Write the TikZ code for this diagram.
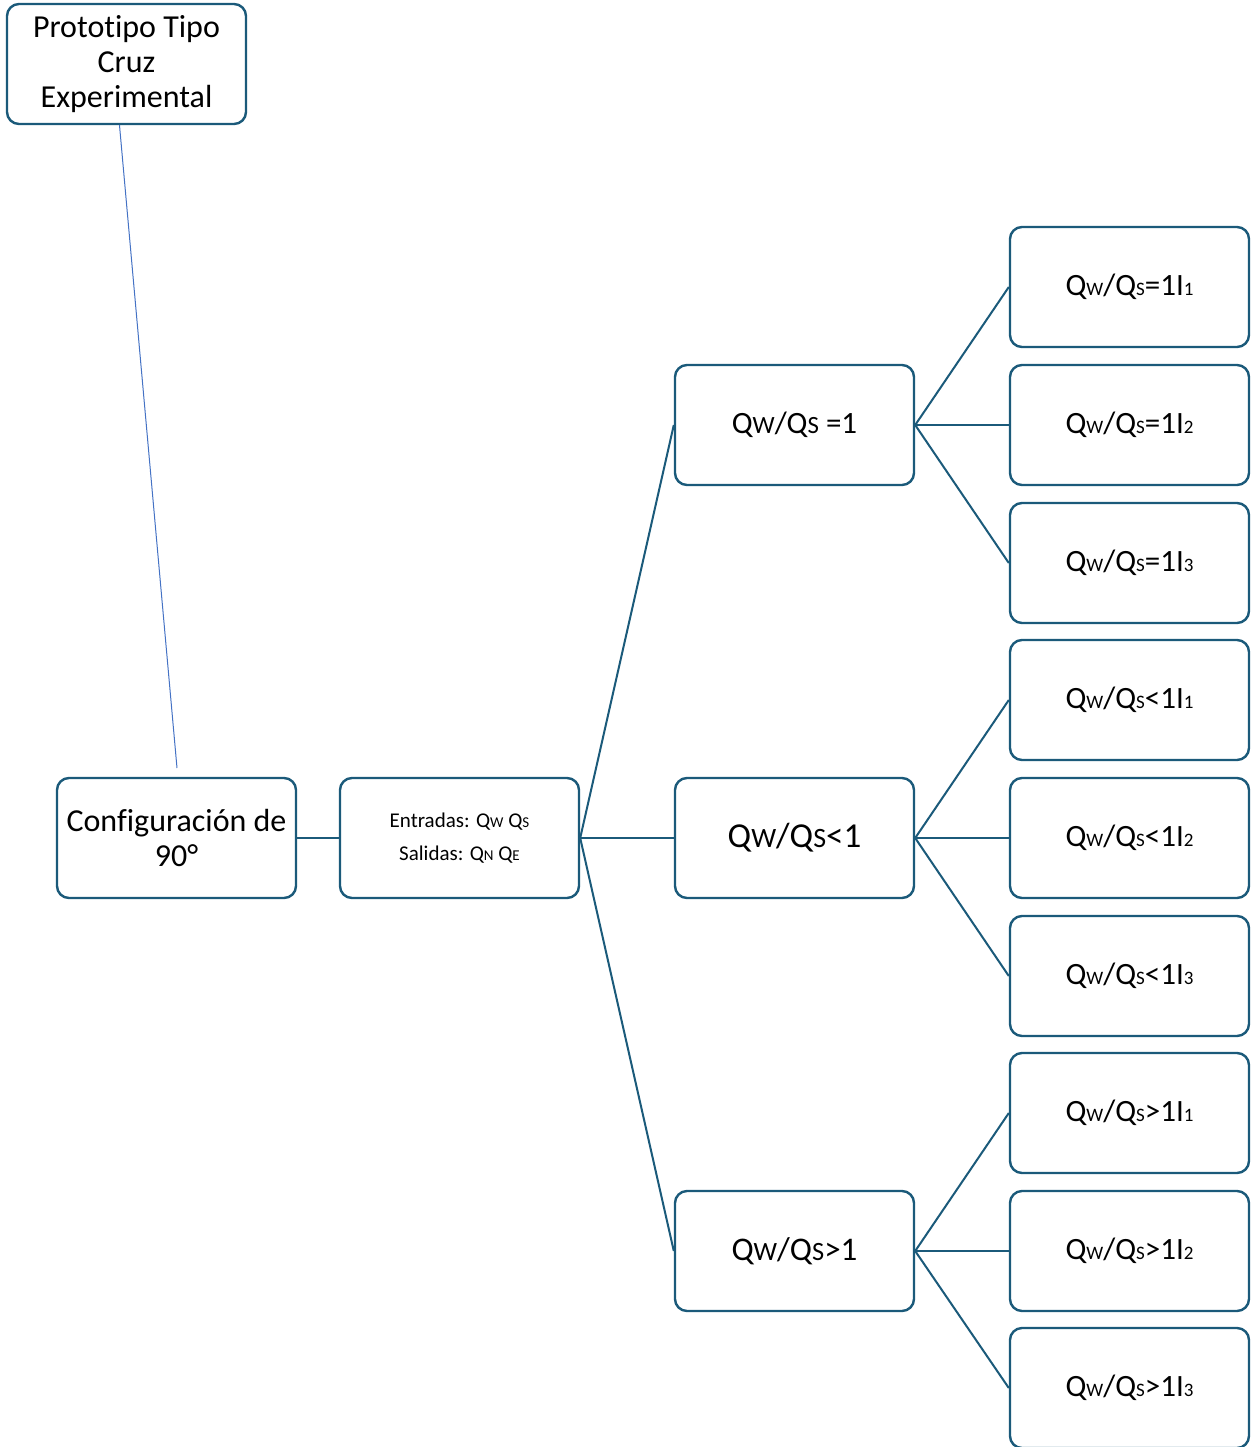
\documentclass[tikz,border=0pt]{standalone}
\usepackage{fontspec}
\setmainfont[Ligatures=NoCommon]{Carlito}
\definecolor{boxc}{HTML}{1B5A7A}
\definecolor{thinc}{HTML}{4472C4}
\newcommand\smc[1]{{\fontsize{9.5}{11}\selectfont #1}}
\newcommand\mdc[1]{{\fontsize{0.8\dimexpr\fontdimen6\font\relax}{14}\selectfont #1}}
\newcommand\tnc[1]{{\fontsize{7.5}{9}\selectfont #1}}
\begin{document}
\begin{tikzpicture}[x=0.5pt,y=-0.5pt,
  box/.style={draw=boxc, line width=1.2pt, rounded corners=6pt, fill=white,
    minimum width=119.5pt, minimum height=60pt, align=center, inner sep=2pt},
  conn/.style={draw=boxc, line width=1pt},
  leaf/.style={box, font=\fontsize{15.5}{18}\selectfont},
  mid/.style={box}]
\useasboundingbox (0,0) rectangle (1250,1447);
\node[box, font=\fontsize{16}{17.5}\selectfont] (top) at (126.5,64) {Prototipo Tipo\\Cruz\\Experimental};
\node[box, font=\fontsize{16}{17.5}\selectfont] (cfg) at (176.5,838) {Configuración de\\90°};
\node[box, font=\fontsize{10.5}{16.5}\selectfont] (io) at (459.5,838) {Entradas: Q\tnc{W} Q\tnc{S}\\Salidas: Q\tnc{N} Q\tnc{E}};
\node[mid, font=\fontsize{15.5}{18}\selectfont] (m1) at (794.5,425) {Q\mdc{W}/Q\mdc{S} =1};
\node[mid, font=\fontsize{17.5}{20}\selectfont] (m2) at (794.5,838) {Q\mdc{W}/Q\mdc{S}<1};
\node[mid, font=\fontsize{16.5}{19}\selectfont] (m3) at (794.5,1251) {Q\mdc{W}/Q\mdc{S}>1};
\node[leaf] (a1) at (1129.5,287) {Q\smc{W}/Q\smc{S}=1I\smc{1}};
\node[leaf] (a2) at (1129.5,425) {Q\smc{W}/Q\smc{S}=1I\smc{2}};
\node[leaf] (a3) at (1129.5,563) {Q\smc{W}/Q\smc{S}=1I\smc{3}};
\node[leaf] (b1) at (1129.5,700) {Q\smc{W}/Q\smc{S}<1I\smc{1}};
\node[leaf] (b2) at (1129.5,838) {Q\smc{W}/Q\smc{S}<1I\smc{2}};
\node[leaf] (b3) at (1129.5,976) {Q\smc{W}/Q\smc{S}<1I\smc{3}};
\node[leaf] (c1) at (1129.5,1113) {Q\smc{W}/Q\smc{S}>1I\smc{1}};
\node[leaf] (c2) at (1129.5,1251) {Q\smc{W}/Q\smc{S}>1I\smc{2}};
\node[leaf] (c3) at (1129.5,1388) {Q\smc{W}/Q\smc{S}>1I\smc{3}};
\coordinate (tend) at (177,768);
\draw[thinc, line width=0.5pt] (top.south) ++(-7,0) coordinate (tstart) -- (tend);
\draw[conn] (cfg.east) -- (io.west);
\foreach \m in {m1,m2,m3} \draw[conn] (io.east) -- (\m.west);
\foreach \l in {a1,a2,a3} \draw[conn] (m1.east) -- (\l.west);
\foreach \l in {b1,b2,b3} \draw[conn] (m2.east) -- (\l.west);
\foreach \l in {c1,c2,c3} \draw[conn] (m3.east) -- (\l.west);
\end{tikzpicture}
\end{document}
